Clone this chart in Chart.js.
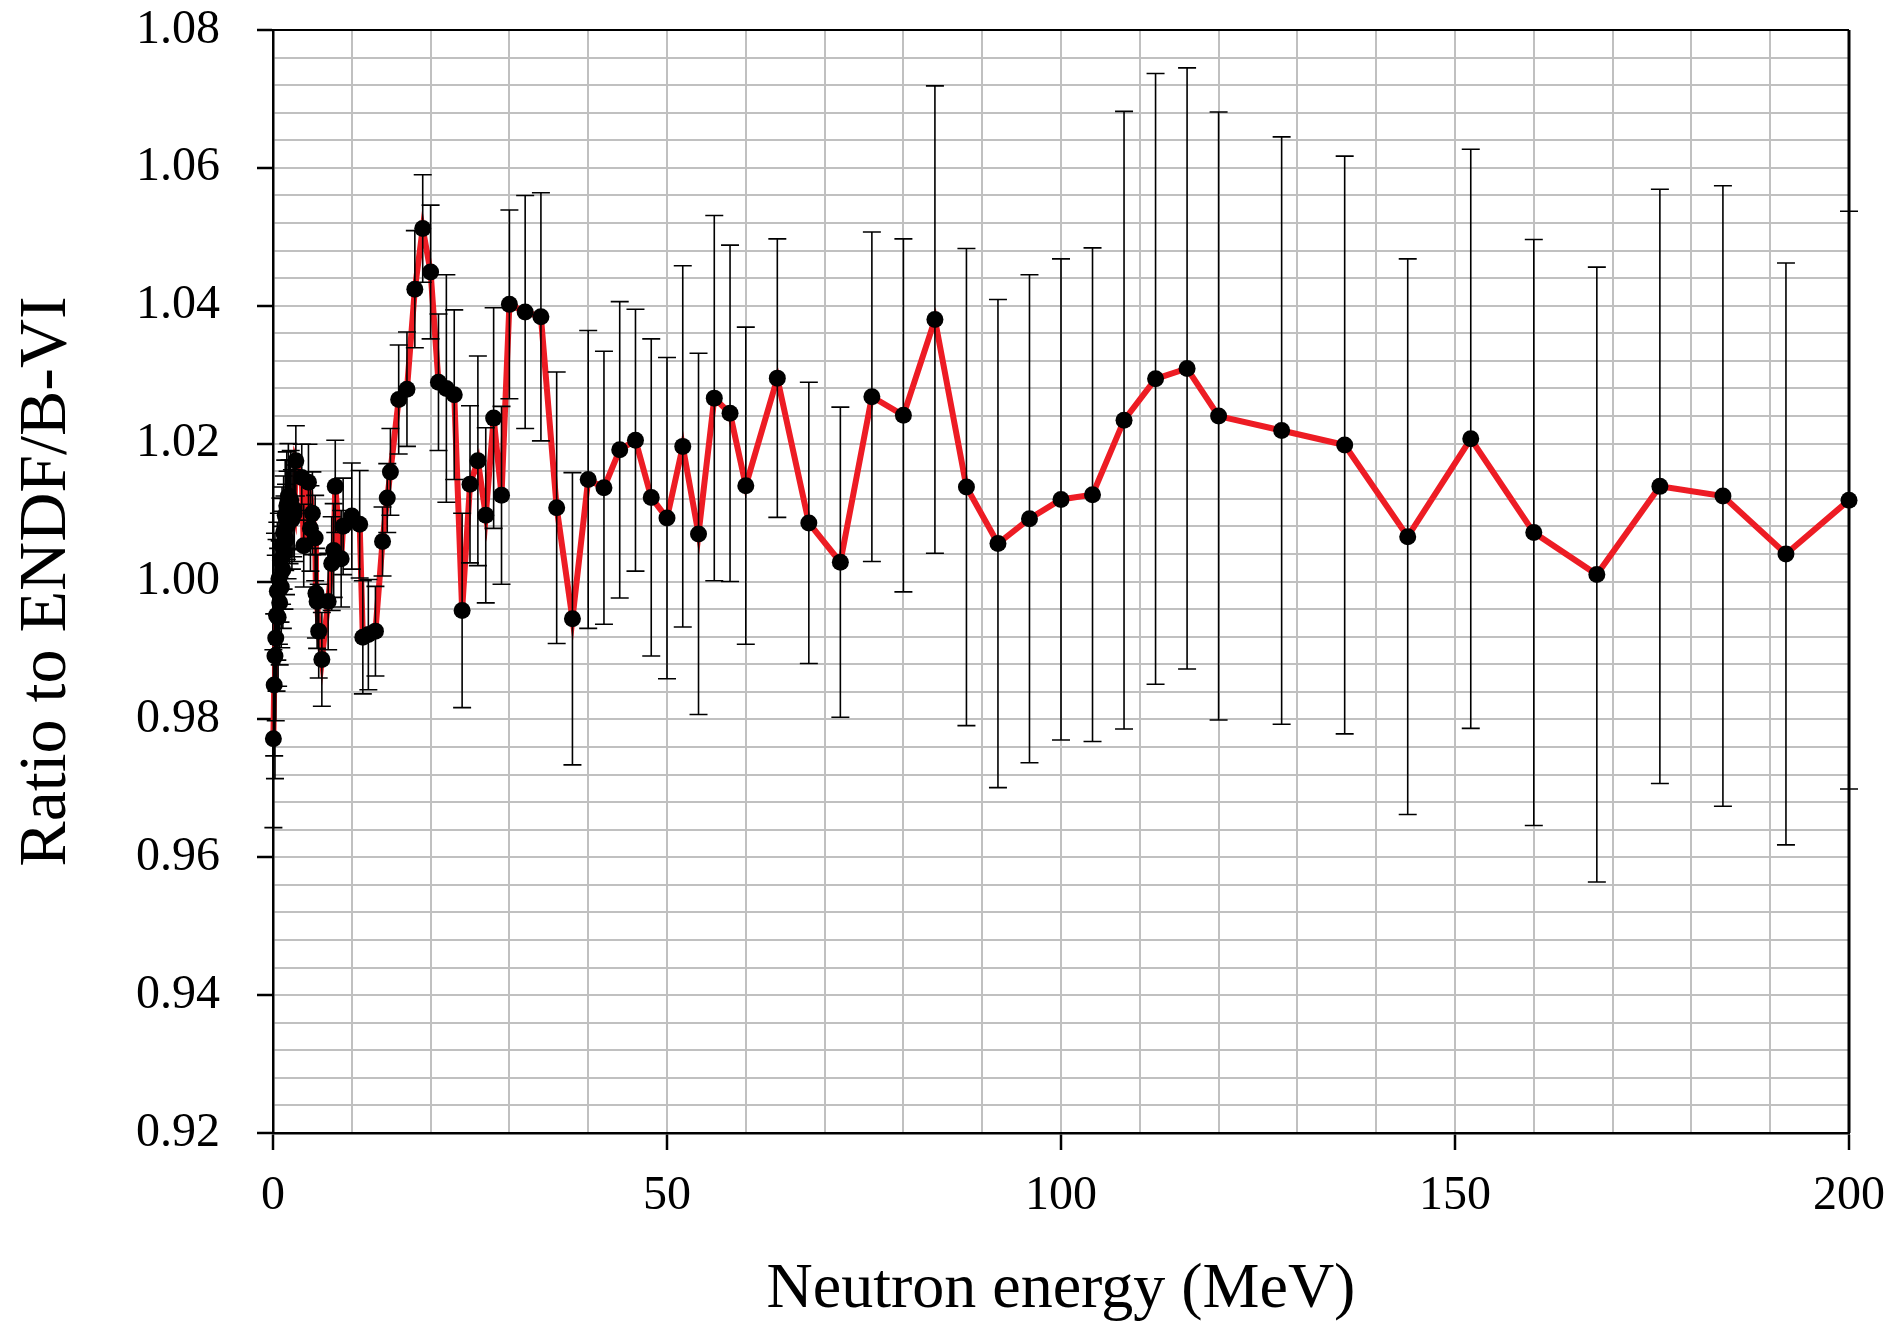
<!DOCTYPE html>
<html>
<head>
<meta charset="utf-8">
<script src="https://cdn.jsdelivr.net/npm/chart.js@4.4.1/dist/chart.umd.min.js"></script>
<style>
  html, body { margin: 0; padding: 0; background: #ffffff; }
  #wrap { width: 1892px; height: 1329px; }
</style>
</head>
<body>
<div id="wrap"><canvas id="chart" width="1892" height="1329"></canvas></div>
<script>
// ---- data ----
const energies = [
  0.05, 0.15, 0.25, 0.35, 0.45, 0.55, 0.65, 0.75, 0.85, 0.95,
  1.05, 1.15, 1.25, 1.35, 1.45, 1.55, 1.65, 1.75, 1.85, 1.95,
  2.1, 2.25, 2.4, 2.55, 2.7, 2.9, 3.65, 3.9, 4.5, 4.75,
  5.0, 5.35, 5.45, 5.6, 5.8, 6.2, 7.0, 7.45, 7.7, 7.9,
  8.65, 8.9, 10.0, 11.0, 11.4, 12.1, 13.0, 13.9, 14.5, 14.9,
  15.95, 17, 18, 19, 20, 21, 22, 23, 24, 25,
  26, 27, 28, 29, 30, 32, 34, 36, 38, 40,
  42, 44, 46, 48, 50, 52, 54, 56, 58, 60,
  64, 68, 72, 76, 80, 84, 88, 92, 96, 100,
  104, 108, 112, 116, 120, 128, 136, 144, 152, 160,
  168, 176, 184, 192, 200
];
const ratios = [
  0.9772, 0.9850, 0.9892, 0.9918, 0.9951, 0.9986, 0.9948, 1.0004, 0.9969, 1.0031,
  0.9992, 1.0052, 1.0017, 1.0071, 1.0042, 1.0096, 1.0061, 1.0110, 1.0082, 1.0124,
  1.0101, 1.0118, 1.0090, 1.0106, 1.0099, 1.0175, 1.0151, 1.0052, 1.0144, 1.0077,
  1.0099, 1.0063, 0.9983, 0.9971, 0.9928, 0.9887, 0.9971, 1.0026, 1.0045, 1.0138,
  1.0033, 1.0080, 1.0095, 1.0083, 0.9919, 0.9923, 0.9928, 1.0058, 1.0121, 1.0159,
  1.0264, 1.0279, 1.0424, 1.0512, 1.0449, 1.0289, 1.0280, 1.0271, 0.9958, 1.0141,
  1.0175, 1.0096, 1.0237, 1.0125, 1.0402, 1.0391, 1.0384, 1.0107, 0.9946, 1.0148,
  1.0136, 1.0191, 1.0205, 1.0122, 1.0092, 1.0196, 1.0069, 1.0266, 1.0244, 1.0139,
  1.0295, 1.0085, 1.0028, 1.0268, 1.0241, 1.0380, 1.0137, 1.0055, 1.0091, 1.0119,
  1.0126, 1.0234, 1.0294, 1.0309, 1.0240, 1.0219, 1.0198, 1.0065, 1.0207, 1.0071,
  1.0010, 1.0138, 1.0124, 1.0040, 1.0118
];
const uncertainties = [
  0.0129, 0.0103, 0.0178, 0.0120, 0.0110, 0.0100, 0.0100, 0.0095, 0.0090, 0.0090,
  0.0088, 0.0085, 0.0085, 0.0082, 0.0082, 0.0080, 0.0080, 0.0078, 0.0078, 0.0076,
  0.0075, 0.0072, 0.0072, 0.0070, 0.0070, 0.0051, 0.0048, 0.0060, 0.0055, 0.0062,
  0.0060, 0.0062, 0.0065, 0.0068, 0.0068, 0.0068, 0.0070, 0.0068, 0.0068, 0.0067,
  0.0070, 0.0070, 0.0077, 0.0078, 0.0082, 0.0080, 0.0065, 0.0050, 0.0050, 0.0063,
  0.0079, 0.0083, 0.0085, 0.0078, 0.0097, 0.0099, 0.0165, 0.0123, 0.0141, 0.0114,
  0.0152, 0.0127, 0.0160, 0.0129, 0.0137, 0.0169, 0.0180, 0.0197, 0.0212, 0.0216,
  0.0198, 0.0215, 0.0190, 0.0230, 0.0233, 0.0262, 0.0262, 0.0265, 0.0244, 0.0230,
  0.0202, 0.0204, 0.0225, 0.0239, 0.0256, 0.0339, 0.0346, 0.0354, 0.0354, 0.0349,
  0.0358, 0.0448, 0.0443, 0.0436, 0.0441, 0.0426, 0.0419, 0.0403, 0.0420, 0.0425,
  0.0446, 0.0431, 0.0450, 0.0422, 0.0419
];
const xTickLabels = [0, 50, 100, 150, 200];
const yTickLabels = ['0.92', '0.94', '0.96', '0.98', '1.00', '1.02', '1.04', '1.06', '1.08'];
const xTitle = 'Neutron energy (MeV)';
const yTitle = 'Ratio to ENDF/B-VI';

// ---- helpers ----
const points = energies.map((e, i) => ({ x: e, y: ratios[i] }));
const yMajor = yTickLabels.map(Number);
const isYMajor = v => yMajor.some(m => Math.abs(m - v) < 1e-6);
const isXMajor = v => xTickLabels.some(m => Math.abs(m - v) < 1e-6);
const FONT = "'Liberation Serif', 'Times New Roman', serif";

const errorBars = {
  id: 'errorBars',
  afterDatasetDraw(chart, args) {
    if (args.index !== 1) return;
    const { ctx } = chart;
    const xs = chart.scales.x, ys = chart.scales.y;
    ctx.save();
    ctx.strokeStyle = '#000000';
    ctx.lineWidth = 1.6;
    energies.forEach((e, i) => {
      const px = xs.getPixelForValue(e);
      const top = ys.getPixelForValue(ratios[i] + uncertainties[i]);
      const bot = ys.getPixelForValue(ratios[i] - uncertainties[i]);
      ctx.beginPath();
      ctx.moveTo(px, top); ctx.lineTo(px, bot);
      ctx.moveTo(px - 9, top); ctx.lineTo(px + 9, top);
      ctx.moveTo(px - 9, bot); ctx.lineTo(px + 9, bot);
      ctx.stroke();
    });
    ctx.restore();
  }
};

const frame = {
  id: 'frame',
  afterDraw(chart) {
    const { ctx, chartArea: a } = chart;
    ctx.save();
    ctx.strokeStyle = '#000000';
    ctx.lineWidth = 2;
    ctx.beginPath();
    ctx.moveTo(a.left, a.top); ctx.lineTo(a.right, a.top);
    ctx.stroke();
    ctx.lineWidth = 3;
    ctx.beginPath();
    ctx.moveTo(a.right, a.top); ctx.lineTo(a.right, a.bottom);
    ctx.stroke();
    ctx.restore();
  }
};

new Chart(document.getElementById('chart'), {
  type: 'scatter',
  data: {
    datasets: [
      {
        label: 'points',
        data: points,
        showLine: false,
        pointRadius: 8.5,
        pointHoverRadius: 8.5,
        pointBackgroundColor: '#000000',
        pointBorderWidth: 0,
        clip: false
      },
      {
        label: 'line',
        data: points,
        showLine: true,
        borderColor: '#ED1C24',
        borderWidth: 6,
        pointRadius: 0,
        tension: 0,
        clip: false
      }
    ]
  },
  options: {
    responsive: false,
    devicePixelRatio: 1,
    animation: false,
    events: [],
    layout: { padding: { left: 0, right: 43, top: 30, bottom: 0 } },
    plugins: { legend: { display: false }, tooltip: { enabled: false } },
    scales: {
      x: {
        type: 'linear',
        position: 'bottom',
        min: 0, max: 200,
        afterFit(scale) {
          scale.height = 196;
          scale.paddingLeft = 0; scale.paddingRight = 0;
        },
        ticks: {
          stepSize: 10,
          autoSkip: false,
          maxRotation: 0,
          padding: 18,
          color: '#000000',
          font: { family: FONT, size: 48 },
          callback: v => (isXMajor(v) ? String(v) : '')
        },
        grid: {
          color: '#c0c0c0',
          lineWidth: 2,
          tickLength: 17,
          tickWidth: 2.5,
          tickColor: c => (c.tick && isXMajor(c.tick.value) ? '#000000' : 'rgba(0,0,0,0)')
        },
        border: { color: '#000000', width: 2.5 },
        title: {
          display: true,
          text: xTitle,
          color: '#000000',
          font: { family: FONT, size: 64 },
          padding: { top: 0, bottom: 0 }
        }
      },
      y: {
        type: 'linear',
        position: 'left',
        min: 0.92, max: 1.08,
        afterFit(scale) {
          scale.width = 273;
          scale.paddingTop = 0; scale.paddingBottom = 0;
        },
        ticks: {
          stepSize: 0.004,
          autoSkip: false,
          padding: 37,
          color: '#000000',
          font: { family: FONT, size: 48 },
          callback: v => (isYMajor(v) ? Number(v).toFixed(2) : '')
        },
        grid: {
          color: '#c0c0c0',
          lineWidth: 2,
          tickLength: 16,
          tickWidth: 2.5,
          tickColor: c => (c.tick && isYMajor(c.tick.value) ? '#000000' : 'rgba(0,0,0,0)')
        },
        border: { color: '#000000', width: 2.5 },
        title: {
          display: true,
          text: yTitle,
          color: '#000000',
          font: { family: FONT, size: 68 },
          padding: { top: 6, bottom: 0 }
        }
      }
    }
  },
  plugins: [errorBars, frame]
});
</script>
</body>
</html>
